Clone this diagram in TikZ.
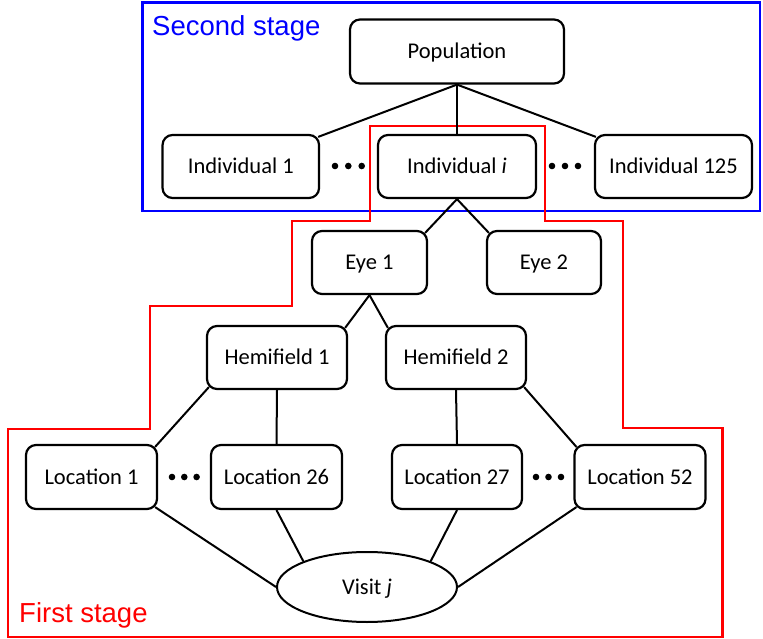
\documentclass[tikz,border=0pt]{standalone}
\usepackage{fontspec}
\setmainfont{Carlito}
\newfontfamily\stagefont{Liberation Sans}
\usetikzlibrary{shapes.geometric}
\definecolor{stageblue}{RGB}{0,0,255}
\definecolor{stagered}{RGB}{255,0,0}
\tikzset{
  box/.style={draw=black, line width=2.2pt, rounded corners=10pt, inner sep=0pt,
    minimum height=63pt, font=\fontsize{22.5pt}{26pt}\selectfont,
    text height=14.5pt, text depth=0pt},
  oval/.style={draw=black, line width=2pt, ellipse, inner sep=0pt,
    minimum width=180pt, minimum height=70pt, font=\fontsize{22.5pt}{26pt}\selectfont,
    text height=14.5pt, text depth=0pt},
  conn/.style={draw=black, line width=2pt},
  frame/.style={line width=2.7pt},
  stagelabel/.style={font=\stagefont\fontsize{27.5pt}{32pt}\selectfont, inner sep=0pt, anchor=base west},
  dotmark/.style={fill=black}
}
\begin{document}
\begin{tikzpicture}[x=1pt,y=-1pt]
\useasboundingbox (0,0) rectangle (763,639);
% stage frames
\draw[frame, draw=stageblue] (142.5,2.5) rectangle (760,211);
\draw[frame, draw=stagered] (370,126) -- (545,126) -- (545,221) -- (623,221) -- (623,428) -- (722.5,428)
  -- (722.5,637) -- (8,637) -- (8,429) -- (150,429) -- (150,306) -- (292,306) -- (292,221) -- (370,221) -- cycle;
\node[stagelabel, text=stageblue] (second) at (152,36) {Second stage};
\node[stagelabel, text=stagered] (first) at (19,622.5) {First stage};
% nodes
\node[box, minimum width=214pt, minimum height=64pt] (pop) at (457,51.5) {Population};
\node[box, minimum width=156.5pt] (ind1) at (240.8,166.5) {Individual 1};
\node[box, minimum width=158pt] (indi) at (457,166.5) {Individual \textit{i}};
\node[box, minimum width=157pt] (ind125) at (673.5,166.5) {Individual 125};
\node[box, minimum width=115pt] (eye1) at (369.5,262.5) {Eye 1};
\node[box, minimum width=114pt] (eye2) at (544,262.5) {Eye 2};
\node[box, minimum width=140pt] (hemi1) at (277,357.5) {Hemifield 1};
\node[box, minimum width=140pt] (hemi2) at (456,357.5) {Hemifield 2};
\node[box, minimum width=131pt, minimum height=64pt] (loc1) at (91.5,477) {Location 1};
\node[box, minimum width=131pt, minimum height=64pt] (loc26) at (276.5,477) {Location 26};
\node[box, minimum width=130pt, minimum height=64pt] (loc27) at (457,477) {Location 27};
\node[box, minimum width=131pt, minimum height=64pt] (loc52) at (640,477) {Location 52};
\node[oval] (visit) at (367,587) {Visit \textit{j}};
% dots
\foreach \x in {335,348.3,361.7}{\fill[dotmark] (\x,166) circle (3.3pt);}
\foreach \x in {552,565,578}{\fill[dotmark] (\x,166) circle (3.3pt);}
\foreach \x in {172,184.3,196.6}{\fill[dotmark] (\x,477) circle (3.3pt);}
\foreach \x in {536,548.5,561}{\fill[dotmark] (\x,477) circle (3.3pt);}
% connectors
\draw[conn] (pop.south) -- ([xshift=-2pt,yshift=-3pt]ind1.north east);
\draw[conn] (pop.south) -- (indi.north);
\draw[conn] (pop.south) -- ([xshift=2pt,yshift=-3pt]ind125.north west);
\draw[conn] (indi.south) -- ([xshift=-3pt,yshift=-3pt]eye1.north east);
\draw[conn] (indi.south) -- ([xshift=3pt,yshift=-3pt]eye2.north west);
\draw[conn] (eye1.south) -- ([xshift=-3pt,yshift=-3pt]hemi1.north east);
\draw[conn] (eye1.south) -- ([xshift=3pt,yshift=-3pt]hemi2.north west);
\draw[conn] ([xshift=3pt,yshift=3pt]hemi1.south west) -- ([xshift=-3pt,yshift=-3pt]loc1.north east);
\draw[conn] (hemi1.south) -- (loc26.north);
\draw[conn] (hemi2.south) -- (loc27.north);
\draw[conn] ([xshift=-3pt,yshift=3pt]hemi2.south east) -- ([xshift=3pt,yshift=-3pt]loc52.north west);
\draw[conn] ([xshift=-3pt,yshift=3pt]loc1.south east) -- (visit.west);
\draw[conn] (loc26.south) -- (visit.158);
\draw[conn] (loc27.south) -- (visit.22);
\draw[conn] ([xshift=3pt,yshift=3pt]loc52.south west) -- (visit.east);
\end{tikzpicture}
\end{document}
